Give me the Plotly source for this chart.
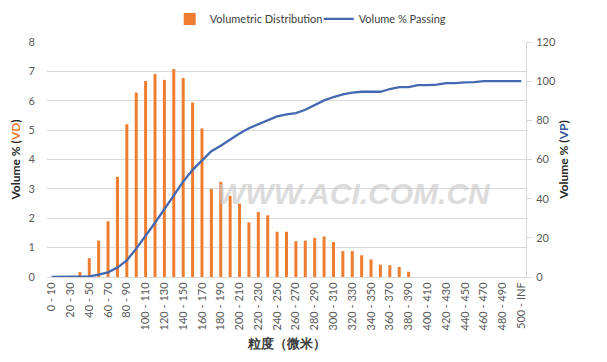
import plotly.graph_objects as go

categories = [f"{i*10} - {i*10+10}" for i in range(50)] + ["500 - INF"]

volumetric_distribution = [
    0, 0, 0, 0.17, 0.64, 1.24, 1.90, 3.41, 5.20, 6.28,
    6.67, 6.91, 6.71, 7.08, 6.77, 5.94, 5.06, 3.00, 3.24, 2.76,
    2.50, 1.86, 2.21, 2.10, 1.54, 1.54, 1.22, 1.24, 1.33, 1.38,
    1.19, 0.88, 0.88, 0.74, 0.60, 0.42, 0.40, 0.34, 0.18, 0,
    0, 0, 0, 0, 0, 0, 0, 0, 0, 0, 0,
]

volume_passing = [
    0, 0, 0, 0.1, 0.3, 1.2, 2.4, 4.8, 8.5, 14.5,
    21.0, 27.7, 34.7, 41.8, 48.7, 54.7, 59.5, 64.2, 67.0, 70.3,
    73.3, 76.0, 78.1, 79.8, 82.0, 83.0, 83.7, 85.4, 87.6, 90.2,
    91.9, 93.2, 94.1, 94.6, 94.6, 94.6, 96.0, 97.0, 97.0, 98.0,
    98.0, 98.2, 99.0, 99.0, 99.4, 99.5, 100, 100, 100, 100, 100,
]

tick_labels = categories[::2]

ORANGE = "#ED7D31"
BLUE = "#4468B0"
FONT = "Lato"

fig = go.Figure()
fig.add_trace(go.Bar(
    x=categories, y=volumetric_distribution, name="Volumetric Distribution",
    marker=dict(color=ORANGE, line=dict(width=0)), yaxis="y",
))
fig.add_trace(go.Scatter(
    x=categories, y=volume_passing, name="Volume % Passing", mode="lines",
    line=dict(color=BLUE, width=2.3), yaxis="y2",
))

fig.update_layout(
    width=599, height=354,
    margin=dict(l=39, r=81, t=34, b=85, autoexpand=False),
    paper_bgcolor="white", plot_bgcolor="white",
    font=dict(family=FONT, size=11, color="#595959"),
    bargap=0.68,
    showlegend=True,
    legend=dict(orientation="h", x=0.27, xref="container", xanchor="left",
                y=0.969, yref="container", yanchor="middle",
                font=dict(size=11, color="#404040"), bgcolor="rgba(0,0,0,0)",
                traceorder="normal", entrywidth=104),
    xaxis=dict(
        type="category", categoryorder="array", categoryarray=categories,
        tickmode="array", tickvals=tick_labels, ticktext=tick_labels,
        tickangle=-90, showline=True, linecolor="#d9d9d9", linewidth=1,
        showgrid=False, ticks="", tickfont=dict(size=11, color="#595959"),
        automargin=False,
        title=dict(text="<b>粒度（微米）</b>", font=dict(size=13, color="#404040"), standoff=9),
    ),
    yaxis=dict(
        range=[0, 8], dtick=1, showgrid=True, gridcolor="#d9d9d9", gridwidth=1,
        zeroline=False, showline=False, ticks="", ticklabelstandoff=11,
        tickfont=dict(size=11, color="#595959"), automargin=False,
        title=dict(text="<b>Volume % (<span style='color:#ED7D31'>VD</span>)</b>",
                   font=dict(size=12, color="#262626"), standoff=5),
    ),
    yaxis2=dict(
        range=[0, 120], dtick=20, overlaying="y", side="right", showgrid=False,
        zeroline=False, showline=True, linecolor="#d9d9d9", ticks="outside", ticklen=5,
        tickcolor="#d9d9d9", tickfont=dict(size=11, color="#595959"), automargin=False,
        ticklabelstandoff=2,
        title=dict(text="<b>Volume % (<span style='color:#2E5597'>VP</span>)</b>",
                   font=dict(size=12, color="#262626"), standoff=4),
    ),
    annotations=[dict(
        text="<b><i>WWW.ACI.COM.CN</i></b>", xref="paper", yref="paper",
        x=0.64, y=0.355, xanchor="center", yanchor="middle", showarrow=False,
        font=dict(family="Liberation Sans", size=30, color="rgba(200,200,200,0.65)"),
    )],
)

fig.write_html("out.html")
